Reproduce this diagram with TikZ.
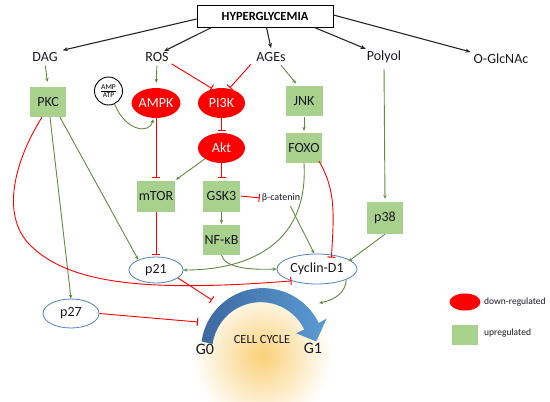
\documentclass[tikz,border=0pt]{standalone}
\usepackage{fontspec}
\setmainfont{Carlito}
\usetikzlibrary{arrows.meta,shapes.geometric,calc}
\definecolor{boxg}{RGB}{169,209,142}
\definecolor{arrg}{RGB}{96,140,62}
\definecolor{ellb}{RGB}{79,129,189}
\definecolor{redc}{RGB}{255,0,0}
\definecolor{txt}{RGB}{25,25,35}
\definecolor{glowc}{RGB}{250,208,120}
\definecolor{arcdark}{RGB}{60,104,160}
\definecolor{arclight}{RGB}{91,155,213}
\newcommand{\smalltxt}[1]{\mbox{\fontsize{7.5}{8}\selectfont #1}}
\begin{document}
\begin{tikzpicture}[x=1pt,y=-1pt,
  lbl/.style={inner sep=1pt,text=txt,font=\fontsize{14}{16}\selectfont},
  gbox/.style={fill=boxg,minimum width=37pt,minimum height=30pt,inner sep=0pt,text=txt,font=\fontsize{14}{16}\selectfont},
  rell/.style={ellipse,fill=redc,minimum width=47pt,minimum height=30pt,inner sep=0pt,text=white,font=\fontsize{14}{16}\selectfont},
  bell/.style={ellipse,draw=ellb,line width=0.8pt,fill=white,inner sep=0pt,text=txt,font=\fontsize{14}{16}\selectfont},
  hbox/.style={draw=black,line width=1pt,fill=white,minimum width=136pt,minimum height=22pt,inner sep=0pt,font=\bfseries\fontsize{12.5}{15}\selectfont},
  barr/.style={draw=black!85,line width=1.1pt,-{Stealth[length=5pt,width=4pt]}},
  garr/.style={draw=arrg,line width=0.9pt,-{Stealth[length=4pt,width=3.5pt]}},
  rinh/.style={draw=redc,line width=0.9pt,-{Bar[width=8pt,line width=1pt]}},
]
\useasboundingbox (0,0) rectangle (550,402);
% glow behind the cell cycle
\shade[inner color=glowc,outer color=white] (262,356) circle (70);

% top
\node[hbox] (H) at (265,16) {HYPERGLYCEMIA};
\node[lbl] (DAG) at (45,57) {DAG};
\node[lbl] (ROS) at (157,57) {ROS};
\node[lbl] (AGEs) at (271,57) {AGEs};
\node[lbl] (Polyol) at (384,57) {Polyol};
\node[lbl] (OG) at (501,59) {O-GlcNAc};

% pathway nodes
\node[gbox,minimum width=36pt] (PKC) at (48,102) {PKC};
\node[circle,draw=black,line width=0.9pt,fill=white,minimum size=28pt,inner sep=0pt] (AMP) at (108.5,91)
  {$\frac{\smalltxt{AMP}}{\smalltxt{ATP}}$};
\node[rell] (AMPK) at (156,103) {AMPK};
\node[rell] (PI3K) at (221.5,103) {PI3K};
\node[rell] (Akt) at (221.5,148) {Akt};
\node[gbox] (JNK) at (304,101) {JNK};
\node[gbox,minimum width=36pt] (FOXO) at (304,148) {FOXO};
\node[gbox,minimum width=38pt,minimum height=31pt] (mTOR) at (156,196) {mTOR};
\node[gbox,minimum height=31pt] (GSK3) at (221.5,196) {GSK3};
\node[inner sep=1pt,text=txt,font=\fontsize{10}{12}\selectfont] (bcat) at (281,198) {β-catenin};
\node[gbox] (NF) at (221.5,240) {NF-κB};
\node[gbox,minimum width=36pt,minimum height=32pt] (p38) at (385,218) {p38};
\node[bell,minimum width=54pt,minimum height=26pt] (p21) at (156,270) {p21};
\node[bell,minimum width=80pt,minimum height=30pt] (Cyc) at (317,269) {Cyclin-D1};
\node[bell,minimum width=56pt,minimum height=29pt] (p27) at (71,313.5) {p27};

% cell cycle arrow
\coordinate (C) at (262,350);
\shade[left color=arcdark,right color=arclight]
  ($(C)+(-172:61)$) arc[start angle=-172,end angle=-26,radius=62]
  -- ($(C)+(-26:72)$) -- ($(C)+(-9:55)$) -- ($(C)+(-26:38)$)
  -- ($(C)+(-26:47)$) arc[start angle=-26,end angle=-172,radius=48.5] -- cycle;
\node[text=txt,font=\fontsize{12.5}{14}\selectfont] (CC) at (262,339) {CELL CYCLE};
\node[text=txt,font=\fontsize{16}{18}\selectfont] (G0) at (205,349) {G0};
\node[text=txt,font=\fontsize{16}{18}\selectfont] (G1) at (313,348) {G1};
\coordinate (ccA) at (212,300);
\coordinate (ccB) at (198,322);
\coordinate (ccC) at (319,303);

% legend
\node[ellipse,fill=redc,minimum width=31pt,minimum height=17pt,inner sep=0pt] (legR) at (465,302) {};
\node[anchor=west,inner sep=1pt,text=txt,font=\fontsize{9.5}{11}\selectfont] (legRt) at (483,302) {down-regulated};
\node[fill=boxg,minimum width=26pt,minimum height=20pt,inner sep=0pt] (legG) at (465,335) {};
\node[anchor=west,inner sep=1pt,text=txt,font=\fontsize{9.5}{11}\selectfont] (legGt) at (483,333) {upregulated};

% hyperglycemia arrows
\draw[barr] ([yshift=-3pt]H.west) -- ([xshift=4pt,yshift=1pt]DAG.north east);
\draw[barr] ([xshift=15pt]H.south west) -- ([xshift=7pt,yshift=0pt]ROS.north);
\draw[barr] ([xshift=70pt]H.south west) -- ([yshift=3pt]AGEs.north);
\draw[barr] ([xshift=118pt]H.south west) -- ([yshift=1pt]Polyol.north west);
\draw[barr] ([yshift=1pt]H.east) -- ([xshift=-2pt,yshift=1pt]OG.north west);

% green activations
\draw[garr,shorten <=3pt,shorten >=5pt] (DAG.south) -- (PKC.north);
\draw[garr,shorten <=3pt,shorten >=5pt] (ROS.south) -- (AMPK.north);
\draw[garr,shorten <=3pt,shorten >=3pt] ([xshift=8pt]AGEs.south) -- ([xshift=-6pt]JNK.north);
\draw[garr,shorten >=1pt] (AMP.-65) .. controls (126,132) and (150,134) .. (AMPK.-100);
\draw[garr,shorten <=1pt,shorten >=2pt] (JNK.south) -- (FOXO.north);
\draw[garr,shorten >=1pt] (Akt.213) -- (mTOR.north east);
\draw[garr,shorten >=1pt] (GSK3.south) -- (NF.north);
\draw[garr,shorten <=3pt] ([xshift=8pt]bcat.south) -- (Cyc.100);
\draw[garr] (FOXO.south) .. controls (309,250) and (240,270) .. (p21.east);
\draw[garr] (NF.south) .. controls (225,268) and (250,270) .. (Cyc.west);
\draw[garr,shorten >=-2pt] (p38.south) -- (Cyc.15);
\draw[garr,shorten <=5pt,shorten >=3pt] (Polyol.south) -- (p38.north);
\draw[garr] ([xshift=12pt]PKC.south) -- (p21.150);
\draw[garr] ([xshift=2pt]PKC.south) -- (p27.north);
\draw[garr] (Cyc.-20) .. controls (346,292) and (335,300) .. (ccC);

% red inhibitions
\draw[rinh,shorten <=2pt,shorten >=1pt] (ROS.south east) -- (PI3K.122);
\draw[rinh,shorten <=2pt,shorten >=1pt] ([xshift=-3pt]AGEs.south west) -- (PI3K.62);
\draw[rinh,shorten >=2pt] (PI3K.south) -- (Akt.north);
\draw[rinh,shorten >=2pt] (AMPK.south) -- (mTOR.north);
\draw[rinh,shorten >=2pt] (Akt.south) -- (GSK3.north);
\draw[rinh,shorten <=1pt,shorten >=1pt] (GSK3.east) -- (bcat.west);
\draw[rinh,shorten >=2pt] (mTOR.south) -- (p21.north);
\draw[rinh] ([xshift=15pt,yshift=2pt]FOXO.south) .. controls (336,190) and (334,215) .. ([yshift=-3pt]Cyc.45);
\draw[rinh] ([xshift=-6pt]PKC.south) .. controls (15,160) and (0,215) .. (30,245)
  .. controls (70,285) and (150,292) .. (Cyc.205);
\draw[rinh] (p21.-20) -- (ccA);
\draw[rinh] (p27.east) -- (ccB);
\end{tikzpicture}
\end{document}
